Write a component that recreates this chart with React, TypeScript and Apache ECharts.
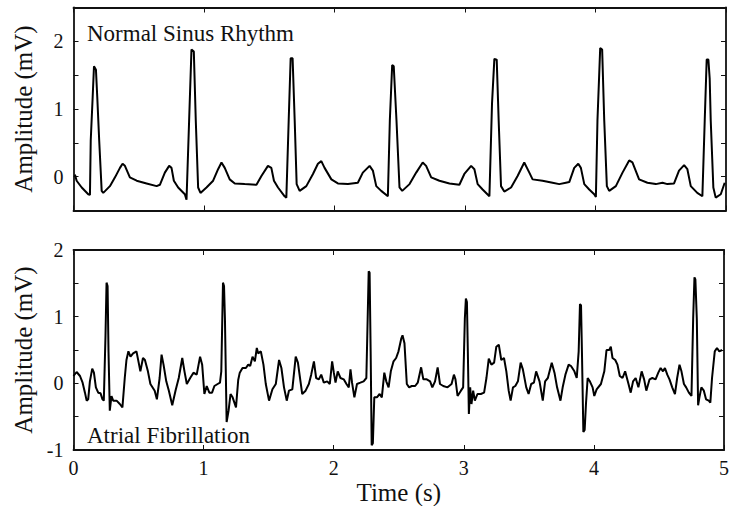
import React, { useEffect, useRef } from "react";
import * as echarts from "echarts";

const timeMin = 0;
const timeMax = 5;
const timeStep = 1;
const nsrRange = [-0.5, 2.5];
const afRange = [-1, 2];
const ampStep = 0.5;
const nsrLabel = "Normal Sinus Rhythm";
const afLabel = "Atrial Fibrillation";
const yName = "Amplitude (mV)";
const xName = "Time (s)";

// Normal sinus rhythm: [time (s), amplitude (mV)]
const nsr: number[][] = [
  [0.011, 0.03], [0.024, -0.06], [0.063, -0.16], [0.113, -0.26], [0.126, -0.27], [0.132, 0.53], [0.147, 1.18], [0.157, 1.63], [0.172, 1.58], [0.182, 1.18],
  [0.197, 0.53], [0.216, -0.21], [0.228, -0.24], [0.279, -0.14], [0.318, -0.01], [0.356, 0.13], [0.376, 0.19], [0.394, 0.16], [0.432, -0.01], [0.484, -0.06],
  [0.56, -0.1], [0.637, -0.14], [0.662, -0.12], [0.7, 0.06], [0.733, 0.16], [0.751, 0.13], [0.769, -0.06], [0.802, -0.16], [0.853, -0.26], [0.866, -0.34],
  [0.886, 0.83], [0.904, 1.88], [0.922, 1.85], [0.937, 0.83], [0.955, -0.16], [0.973, -0.24], [1.019, -0.16], [1.07, -0.06], [1.108, 0.11], [1.134, 0.21],
  [1.159, 0.13], [1.197, -0.04], [1.236, -0.1], [1.312, -0.11], [1.402, -0.12], [1.44, 0.01], [1.49, 0.16], [1.516, 0.13], [1.536, -0.06], [1.567, -0.16],
  [1.618, -0.29], [1.631, -0.31], [1.649, 0.83], [1.664, 1.75], [1.679, 1.75], [1.695, 0.83], [1.71, -0.11], [1.733, -0.21], [1.784, -0.14], [1.835, 0.04],
  [1.873, 0.19], [1.899, 0.23], [1.924, 0.13], [1.976, -0.04], [2.026, -0.1], [2.103, -0.11], [2.179, -0.09], [2.217, 0.06], [2.269, 0.16], [2.294, 0.09],
  [2.32, -0.14], [2.358, -0.21], [2.409, -0.29], [2.424, 0.83], [2.442, 1.65], [2.454, 1.63], [2.475, 0.83], [2.498, -0.16], [2.519, -0.21], [2.575, -0.11],
  [2.626, 0.06], [2.676, 0.21], [2.702, 0.16], [2.741, -0.01], [2.804, -0.06], [2.881, -0.1], [2.957, -0.12], [2.995, 0.04], [3.047, 0.16], [3.072, 0.11],
  [3.097, -0.11], [3.135, -0.19], [3.187, -0.29], [3.207, 1.08], [3.225, 1.74], [3.243, 1.73], [3.258, 0.83], [3.276, -0.14], [3.301, -0.22], [3.353, -0.16],
  [3.403, 0.01], [3.454, 0.21], [3.493, 0.06], [3.518, -0.04], [3.594, -0.06], [3.671, -0.09], [3.722, -0.11], [3.773, -0.09], [3.799, -0.08], [3.837, 0.13],
  [3.868, 0.19], [3.888, 0.13], [3.914, -0.11], [3.952, -0.19], [3.99, -0.26], [4.003, -0.3], [4.015, 0.83], [4.036, 1.9], [4.051, 1.88], [4.067, 0.83],
  [4.087, -0.14], [4.105, -0.21], [4.156, -0.14], [4.207, 0.06], [4.258, 0.24], [4.283, 0.21], [4.334, -0.04], [4.398, -0.09], [4.462, -0.11], [4.513, -0.09],
  [4.551, -0.11], [4.602, -0.1], [4.64, 0.09], [4.679, 0.17], [4.704, 0.11], [4.73, -0.14], [4.78, -0.24], [4.819, -0.29], [4.837, 0.83], [4.852, 1.73],
  [4.865, 1.73], [4.875, 1.45], [4.883, 0.83], [4.903, -0.16], [4.921, -0.31], [4.96, -0.26], [4.99, -0.09],
];

// Atrial fibrillation: [time (s), amplitude (mV)]
const af: number[][] = [
  [0.0, 0.11], [0.024, 0.17], [0.05, 0.11], [0.07, 0.01], [0.088, -0.14], [0.101, -0.26], [0.113, -0.24], [0.126, 0.03], [0.144, 0.22], [0.157, 0.16],
  [0.172, -0.06], [0.19, -0.14], [0.208, -0.15], [0.223, -0.24], [0.233, -0.26], [0.246, 0.72], [0.254, 1.51], [0.262, 1.46], [0.269, 0.48], [0.279, -0.41],
  [0.292, -0.19], [0.305, -0.26], [0.331, -0.26], [0.356, -0.31], [0.376, -0.36], [0.394, 0.08], [0.407, 0.35], [0.422, 0.48], [0.438, 0.4], [0.458, 0.45],
  [0.484, 0.48], [0.501, 0.31], [0.514, 0.18], [0.534, 0.38], [0.549, 0.35], [0.572, 0.18], [0.591, -0.01], [0.624, -0.11], [0.641, -0.24], [0.662, 0.08],
  [0.677, 0.43], [0.692, 0.28], [0.713, 0.03], [0.733, -0.11], [0.759, -0.33], [0.784, -0.11], [0.809, 0.08], [0.836, 0.38], [0.853, 0.18], [0.871, -0.01],
  [0.897, 0.08], [0.922, 0.16], [0.947, 0.13], [0.973, 0.4], [0.989, 0.28], [1.006, -0.16], [1.024, -0.04], [1.044, -0.14], [1.065, -0.14], [1.083, -0.04],
  [1.108, -0.01], [1.126, 0.01], [1.136, 0.18], [1.149, 1.51], [1.157, 1.46], [1.164, 0.97], [1.177, -0.58], [1.192, -0.41], [1.207, -0.16], [1.223, -0.21],
  [1.249, -0.36], [1.266, 0.05], [1.278, 0.16], [1.299, 0.23], [1.325, 0.23], [1.343, 0.28], [1.358, 0.26], [1.376, 0.4], [1.394, 0.33], [1.409, 0.53],
  [1.419, 0.45], [1.44, 0.48], [1.46, 0.28], [1.478, -0.01], [1.503, -0.26], [1.529, -0.09], [1.555, -0.01], [1.58, 0.35], [1.598, 0.23], [1.618, -0.06],
  [1.639, -0.26], [1.656, -0.11], [1.682, -0.09], [1.708, 0.4], [1.725, 0.31], [1.746, 0.01], [1.758, -0.16], [1.784, -0.11], [1.809, -0.01], [1.827, 0.13],
  [1.848, 0.33], [1.865, 0.08], [1.886, 0.06], [1.904, 0.13], [1.924, 0.01], [1.95, 0.03], [1.97, -0.01], [1.988, 0.33], [2.001, 0.16], [2.014, 0.01],
  [2.031, 0.18], [2.052, 0.08], [2.077, 0.06], [2.098, -0.01], [2.116, -0.06], [2.129, 0.21], [2.141, 0.01], [2.159, -0.21], [2.179, -0.01], [2.205, 0.01],
  [2.23, 0.03], [2.251, 0.08], [2.261, 0.97], [2.269, 1.68], [2.276, 1.66], [2.284, 0.48], [2.292, -0.93], [2.301, -0.9], [2.312, -0.21], [2.332, -0.21],
  [2.353, -0.16], [2.37, -0.21], [2.389, 0.16], [2.404, 0.03], [2.422, -0.06], [2.439, 0.18], [2.46, 0.33], [2.48, 0.38], [2.498, 0.48], [2.519, 0.67],
  [2.529, 0.72], [2.544, 0.6], [2.562, -0.01], [2.58, -0.06], [2.6, -0.04], [2.626, -0.04], [2.646, 0.01], [2.672, 0.24], [2.689, 0.06], [2.715, 0.06],
  [2.741, 0.03], [2.758, -0.06], [2.779, 0.03], [2.799, 0.24], [2.817, -0.01], [2.842, -0.04], [2.875, -0.06], [2.906, -0.01], [2.924, 0.13], [2.936, 0.06],
  [2.952, -0.19], [2.978, -0.11], [2.995, -0.06], [3.008, 0.97], [3.016, 1.27], [3.024, 1.22], [3.031, 0.48], [3.039, -0.46], [3.049, -0.06], [3.059, -0.31],
  [3.072, -0.11], [3.085, -0.26], [3.105, -0.16], [3.131, -0.16], [3.156, -0.14], [3.174, 0.08], [3.192, 0.37], [3.212, 0.28], [3.233, 0.31], [3.25, 0.55],
  [3.269, 0.58], [3.288, 0.35], [3.309, 0.38], [3.327, 0.18], [3.345, -0.11], [3.36, -0.26], [3.378, -0.06], [3.396, -0.04], [3.416, 0.03], [3.437, 0.31],
  [3.454, 0.21], [3.48, -0.06], [3.498, -0.16], [3.518, -0.01], [3.539, 0.01], [3.556, 0.18], [3.582, 0.03], [3.607, -0.26], [3.625, 0.03], [3.646, 0.08],
  [3.676, 0.31], [3.697, 0.16], [3.717, -0.06], [3.743, -0.26], [3.76, -0.06], [3.781, 0.13], [3.806, 0.28], [3.824, 0.26], [3.85, 0.18], [3.868, 0.08],
  [3.883, 0.48], [3.893, 1.19], [3.901, 1.17], [3.908, 0.48], [3.919, -0.73], [3.929, -0.7], [3.939, -0.31], [3.952, 0.08], [3.969, 0.03], [3.99, -0.06],
  [4.003, -0.19], [4.021, -0.09], [4.054, -0.01], [4.08, 0.18], [4.097, 0.5], [4.118, 0.5], [4.13, 0.55], [4.143, 0.38], [4.164, 0.35], [4.181, 0.28],
  [4.199, 0.11], [4.22, 0.08], [4.24, 0.18], [4.266, -0.01], [4.283, -0.14], [4.301, 0.03], [4.321, 0.08], [4.342, -0.06], [4.367, 0.18], [4.386, 0.06],
  [4.403, -0.11], [4.428, 0.06], [4.449, 0.08], [4.474, 0.06], [4.495, 0.16], [4.513, 0.23], [4.531, 0.18], [4.546, 0.23], [4.564, 0.13], [4.581, 0.06],
  [4.602, -0.06], [4.623, -0.16], [4.64, 0.08], [4.658, 0.28], [4.673, 0.18], [4.692, -0.01], [4.709, -0.06], [4.73, -0.14], [4.75, -0.19], [4.763, 0.97],
  [4.773, 1.59], [4.78, 1.56], [4.791, 0.97], [4.801, -0.33], [4.811, -0.21], [4.826, -0.06], [4.845, -0.11], [4.862, -0.24], [4.883, -0.26], [4.895, -0.29],
  [4.908, 0.08], [4.929, 0.48], [4.946, 0.53], [4.964, 0.48], [4.985, 0.5],
];

export default function App() {
  const ref = useRef<HTMLDivElement>(null);

  useEffect(() => {
    document.body.style.margin = "0";
    const chart = echarts.init(ref.current!, null, { renderer: "svg" });
    const font = "'Liberation Serif', 'Times New Roman', Times, serif";
    const ink = "#000";
    const left = 73.5;
    const width = 652.5;
    const grids = [
      { left, top: 7.5, width, height: 203 },
      { left, top: 250, width, height: 203 },
    ];
    const ranges = [nsrRange, afRange];

    const xAxes: any[] = [];
    const yAxes: any[] = [];
    grids.forEach((_g, i) => {
      ["bottom", "top"].forEach((pos) => {
        const main = i === 1 && pos === "bottom";
        xAxes.push({
          type: "value",
          gridIndex: i,
          position: pos,
          min: timeMin,
          max: timeMax,
          interval: timeStep,
          axisLine: { show: true, onZero: false, lineStyle: { color: "#111", width: 1.8 } },
          axisTick: { show: true, inside: true, length: 5, lineStyle: { color: "#111", width: 1 } },
          axisLabel: { show: main, fontFamily: font, fontSize: 20, color: "#111", margin: 8 },
          splitLine: { show: false },
          name: main ? xName : "",
          nameLocation: "middle",
          nameGap: 30,
          nameTextStyle: { fontFamily: font, fontSize: 25, color: "#111" },
        });
      });
      ["left", "right"].forEach((pos) => {
        const main = pos === "left";
        yAxes.push({
          type: "value",
          gridIndex: i,
          position: pos,
          min: ranges[i][0],
          max: ranges[i][1],
          interval: ampStep,
          axisLine: { show: true, onZero: false, lineStyle: { color: "#111", width: 1.8 } },
          axisTick: { show: true, inside: true, length: 5, lineStyle: { color: "#111", width: 1 } },
          axisLabel: {
            show: main,
            fontFamily: font,
            fontSize: 20,
            color: "#111",
            margin: 10,
            formatter: (v: number) => (Math.abs(v - Math.round(v)) < 1e-9 ? String(Math.round(v)) : ""),
          },
          splitLine: { show: false },
          name: main ? yName : "",
          nameLocation: "middle",
          nameGap: 38,
          nameTextStyle: { fontFamily: font, fontSize: 25, color: "#111" },
        });
      });
    });

    chart.setOption({
      animation: false,
      backgroundColor: "#fff",
      grid: grids,
      xAxis: xAxes,
      yAxis: yAxes,
      series: [
        {
          type: "line",
          xAxisIndex: 0,
          yAxisIndex: 0,
          data: nsr,
          showSymbol: false,
          symbol: "none",
          lineStyle: { color: ink, width: 2 },
          clip: true,
        },
        {
          type: "line",
          xAxisIndex: 2,
          yAxisIndex: 2,
          data: af,
          showSymbol: false,
          symbol: "none",
          lineStyle: { color: ink, width: 2 },
          clip: true,
        },
      ],
      graphic: [
        {
          type: "text",
          x: 87,
          y: 33,
          style: { text: nsrLabel, font: `23px ${font}`, fill: "#111", verticalAlign: "middle" },
        },
        {
          type: "text",
          x: 87,
          y: 435,
          style: { text: afLabel, font: `23px ${font}`, fill: "#111", verticalAlign: "middle" },
        },
      ],
    });

    return () => chart.dispose();
  }, []);

  return <div ref={ref} style={{ width: 732, height: 506 }} />;
}
